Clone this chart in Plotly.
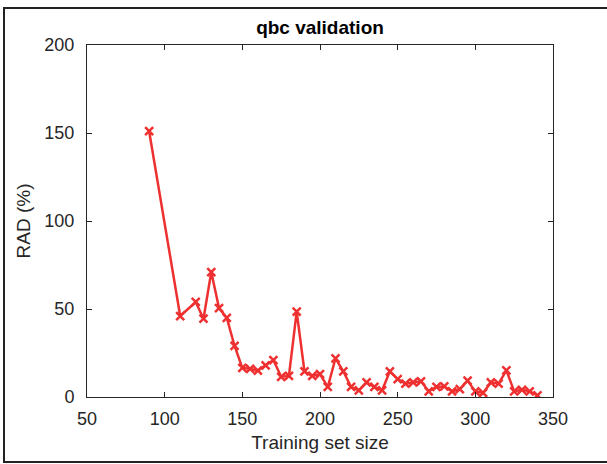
import plotly.graph_objects as go

training_size = [90, 110, 120, 125, 130, 135, 140, 145, 150, 155, 160, 165, 170, 175, 180,
                 185, 190, 195, 200, 205, 210, 215, 220, 225, 230, 235, 240, 245, 250, 255,
                 260, 265, 270, 275, 280, 285, 290, 295, 300, 305, 310, 315, 320, 325, 330,
                 335, 340]
rad_percent = [151, 46, 54, 44.5, 71, 50.5, 45, 29, 16.5, 16, 15, 18, 21, 11.5, 12,
               48.5, 14.5, 12, 13, 5.7, 22, 14.6, 5.7, 3.8, 8.3, 5.7, 3.8, 14.6, 10.2, 7.6,
               8.3, 8.9, 3.2, 5.7, 6.0, 3.2, 4.5, 9.3, 3.2, 2.3, 8.3, 7.6, 15.1, 3.2, 4.1,
               3.2, 0.9]
x_ticks = [50, 100, 150, 200, 250, 300, 350]
y_ticks = [0, 50, 100, 150, 200]

fig = go.Figure()
fig.add_trace(go.Scatter(
    x=training_size, y=rad_percent, mode="lines+markers",
    line=dict(color="#ee3030", width=2.5),
    marker=dict(symbol="x-thin", size=8, line=dict(color="#ee3030", width=2.5)),
    showlegend=False,
))

FONT = "Liberation Sans, Arial"
axis_common = dict(
    showline=True, linecolor="#262626", linewidth=1, mirror="ticks",
    ticks="inside", ticklen=5, tickcolor="#262626", showgrid=False, zeroline=False,
    tickfont=dict(family=FONT, size=18, color="#262626"),
)
fig.update_layout(
    width=607, height=464,
    margin=dict(l=87, r=54, t=45, b=67),
    paper_bgcolor="white", plot_bgcolor="white",
    title=dict(text="<b>qbc validation</b>", x=0.5, xanchor="center", xref="paper",
               y=(464 - 27) / 464, yref="container", yanchor="middle",
               font=dict(family=FONT, size=19, color="black")),
    xaxis=dict(range=[50, 350], tickvals=x_ticks, ticklabelstandoff=5,
               title=dict(text="Training set size", standoff=8,
                          font=dict(family=FONT, size=19, color="#262626")),
               **axis_common),
    yaxis=dict(range=[0, 200], tickvals=y_ticks, ticklabelstandoff=8,
               title=dict(text="RAD (%)", standoff=8,
                          font=dict(family=FONT, size=19, color="#262626")),
               **axis_common),
    shapes=[dict(type="rect", xref="paper", yref="paper",
                 x0=-83 / 466, x1=530 / 466, y0=-65 / 352, y1=389 / 352,
                 line=dict(color="#222222", width=2), fillcolor="rgba(0,0,0,0)",
                 layer="below")],
)
fig.write_html("out.html")
